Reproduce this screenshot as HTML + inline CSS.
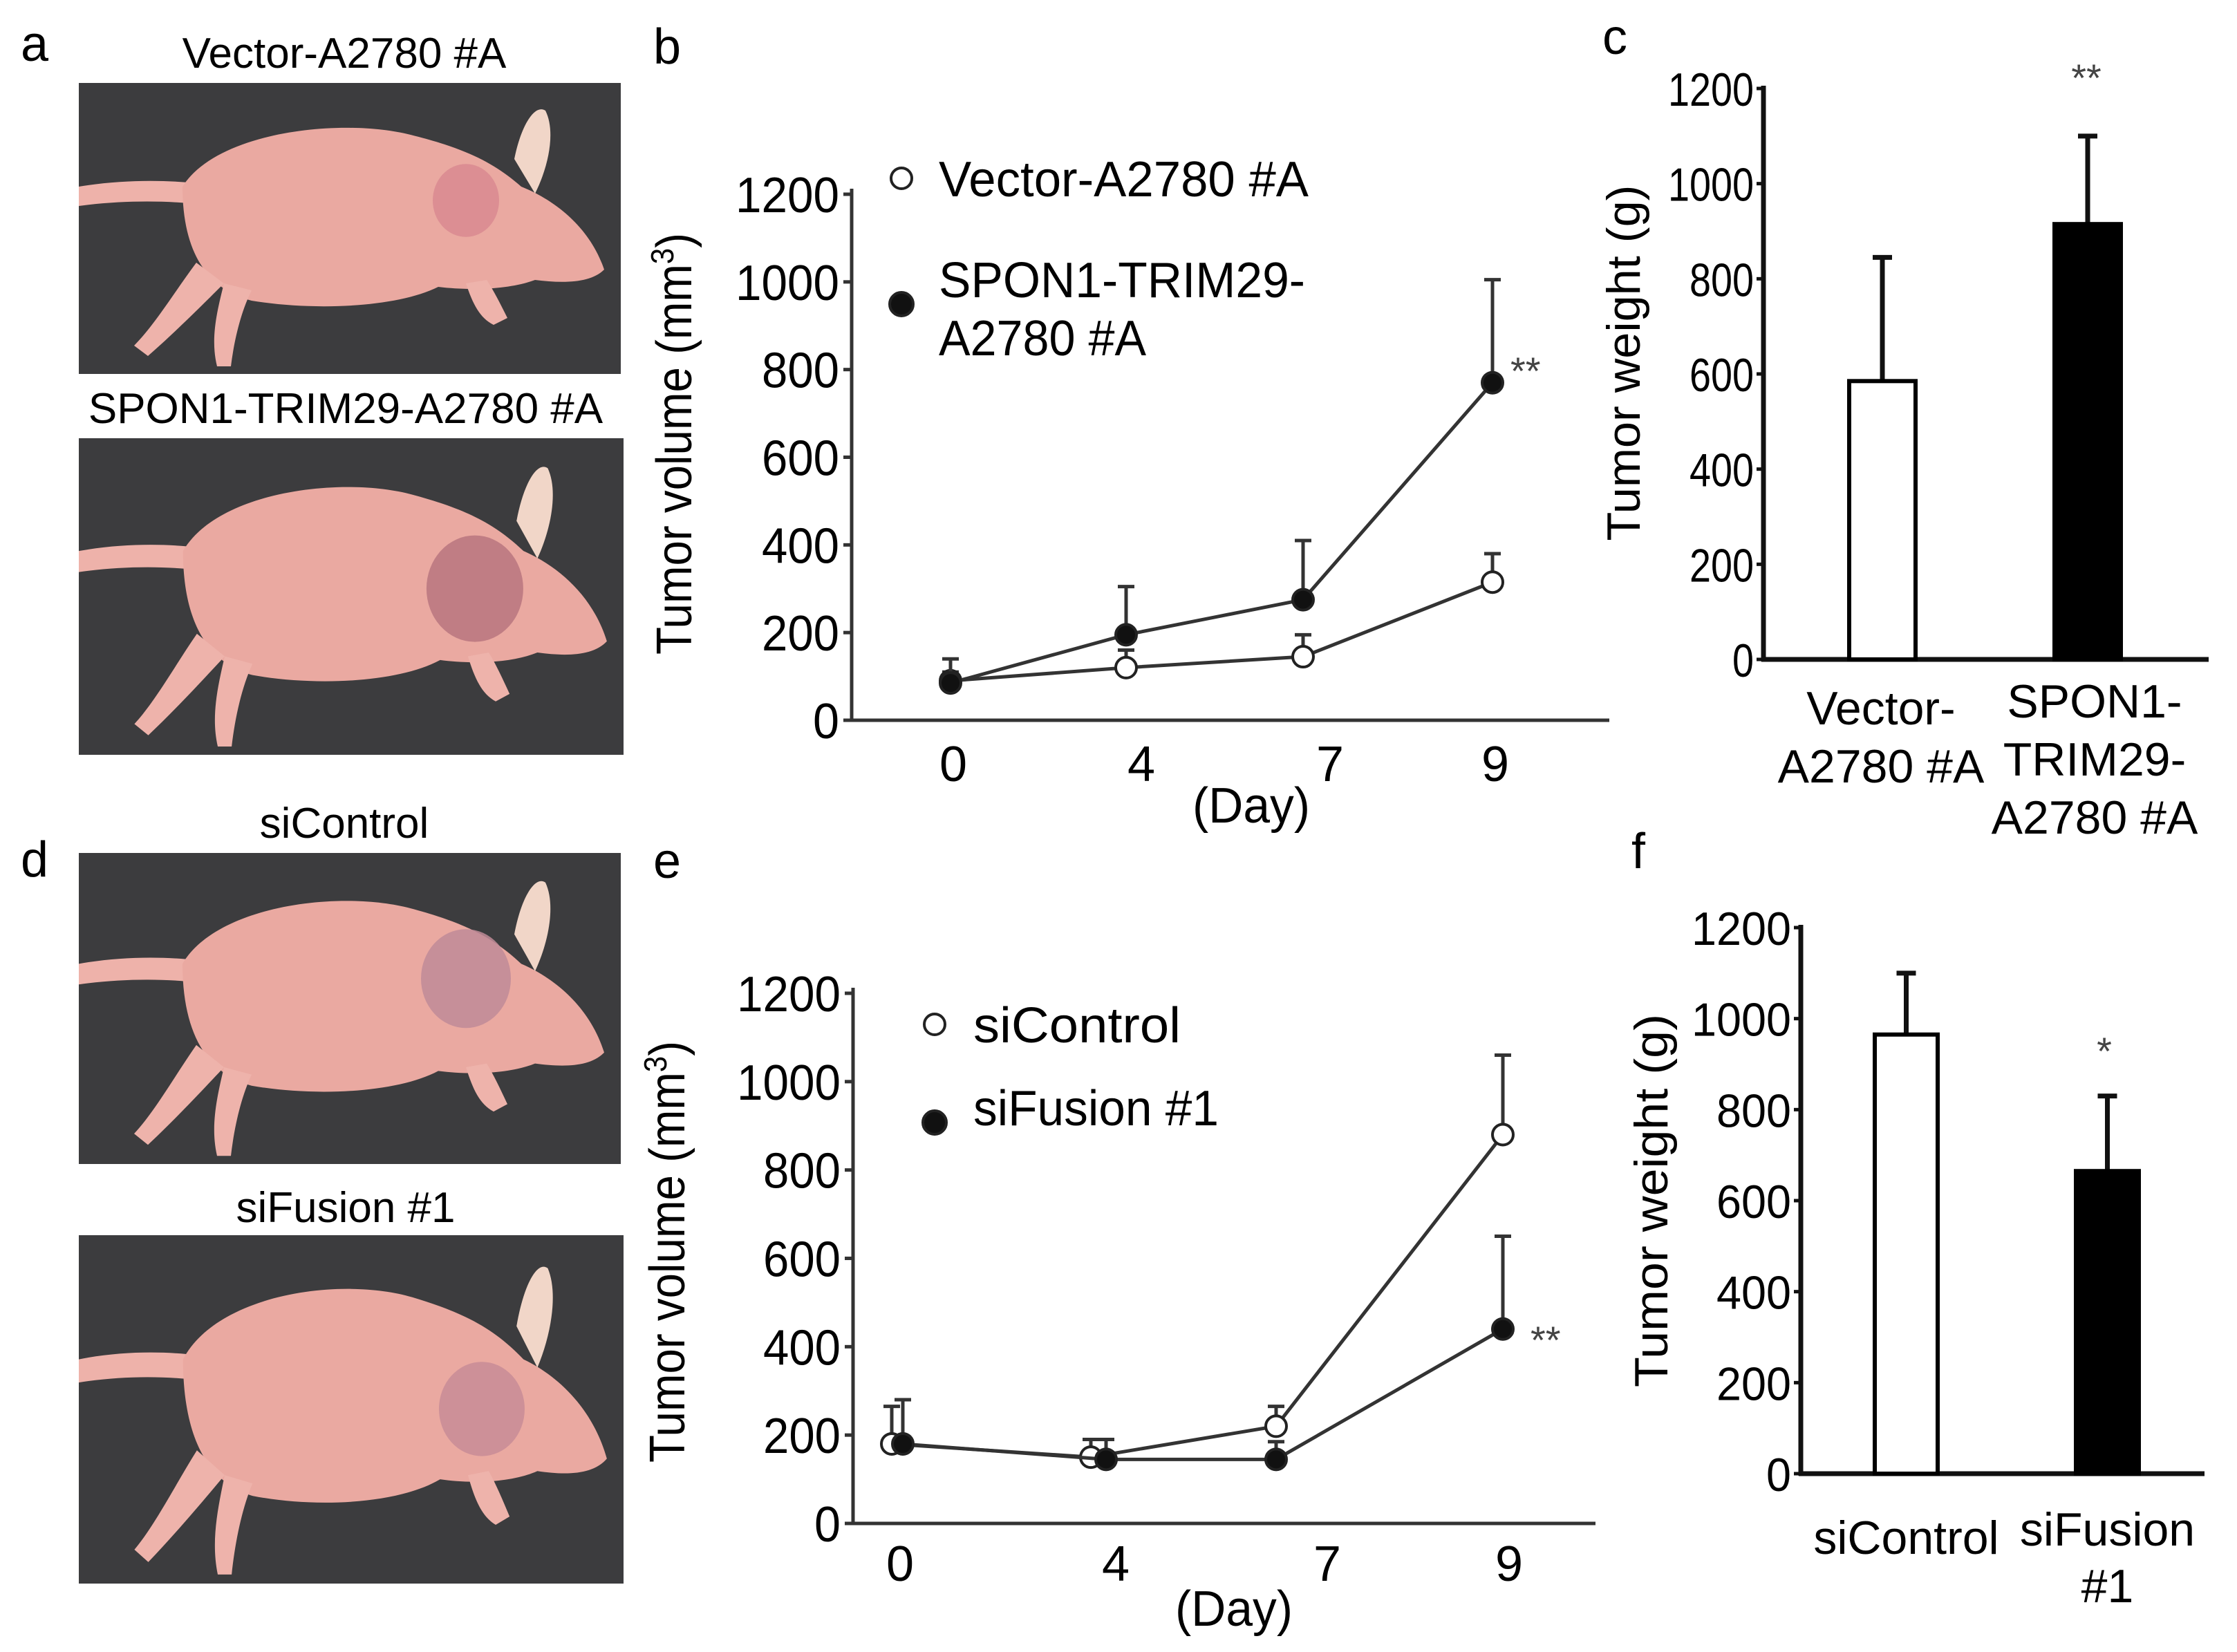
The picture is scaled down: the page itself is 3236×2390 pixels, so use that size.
<!DOCTYPE html>
<html><head><meta charset="utf-8"><style>
html,body{margin:0;padding:0;background:#fff;}
svg{display:block;font-family:"Liberation Sans",sans-serif;}
</style></head><body>
<svg id="fig" width="3236" height="2390" viewBox="0 0 3236 2390" xmlns="http://www.w3.org/2000/svg">
<defs>
<g id="mouse">
  <path d="M0,150 C60,140 120,140 170,145 L170,175 C120,170 60,170 0,178 Z" fill="#eeb2aa"/>
  <path d="M150,150 C200,70 380,50 480,75 C560,95 600,115 640,150 C690,170 740,210 760,270 C740,290 700,290 660,285 C620,300 560,300 520,295 C460,325 340,330 250,315 C190,300 150,250 150,150 Z" fill="#eaa9a1"/>
  <path d="M170,260 C140,300 110,350 80,380 L100,395 C140,360 180,320 210,290 Z" fill="#eeb3ab"/>
  <path d="M210,290 C200,330 190,370 200,410 L220,410 C225,370 235,330 250,300 Z" fill="#eeb3ab"/>
  <path d="M560,290 C570,320 580,340 600,350 L620,340 C610,320 600,300 590,285 Z" fill="#eeb3ab"/>
  <path d="M630,110 C640,60 660,30 675,40 C690,70 680,120 660,160 Z" fill="#f1d6c8"/>
</g>
</defs>
</svg>
<script>
const NS='http://www.w3.org/2000/svg';
const svg=document.getElementById('fig');
function el(tag,attrs,parent,text){const e=document.createElementNS(NS,tag);for(const k in attrs)e.setAttribute(k,attrs[k]);if(text!==undefined)e.textContent=text;(parent||svg).appendChild(e);return e;}

// ---------- data ----------
const days=['0','4','7','9'];
const bVector=[90,120,145,315];
const bVectorErr=[110,160,195,380];
const bFusion=[85,195,275,770];
const bFusionErr=[140,305,410,1005];
const eControl=[180,150,220,880];
const eControlErr=[265,190,265,1060];
const eFusion=[180,145,145,440];
const eFusionErr=[280,190,185,650];
const volTicks=[0,200,400,600,800,1000,1200];
const cCats=['Vector-A2780 #A','SPON1-TRIM29-A2780 #A'];
const cValues=[585,915];
const cErr=[845,1100];
const fCats=['siControl','siFusion #1'];
const fValues=[965,665];
const fErr=[1100,830];
const wTicks=[0,200,400,600,800,1000,1200];

// ---------- panel letters ----------
[['a',30,88],['b',945,92],['c',2318,78],['d',30,1268],['e',945,1270],['f',2360,1256]].forEach(p=>{
  const t=el('text',{x:p[1],y:p[2],'font-size':72},svg,p[0]);
  
  
});

// ---------- photos ----------
const photos=[
 {x:114,y:120,w:784,h:421,title:'Vector-A2780 #A',ty:98,tumor:[560,170,48,'#d98a90']},
 {x:114,y:634,w:788,h:458,title:'SPON1-TRIM29-A2780 #A',ty:612,tumor:[570,200,70,'#b9757f']},
 {x:114,y:1234,w:784,h:450,title:'siControl',ty:1212,tumor:[560,170,65,'#c08b98']},
 {x:114,y:1787,w:788,h:504,title:'siFusion #1',ty:1768,tumor:[580,210,62,'#c88c97']}
];
photos.forEach((p,i)=>{
  const t=el('text',{x:p.x+p.w/2-8,y:p.ty,'font-size':62,'text-anchor':'middle'},svg,p.title);
  
  
  const g=el('g',{transform:`translate(${p.x},${p.y})`});
  
  
  el('rect',{x:0,y:0,width:p.w,height:p.h,fill:'#3c3c3e'},g);
  el('use',{href:'#mouse',transform:`scale(${p.w/784},${p.h/421})`},g);
  el('ellipse',{cx:p.tumor[0]*p.w/784,cy:p.tumor[1]*p.h/421,rx:p.tumor[2],ry:p.tumor[2]*1.1,fill:p.tumor[3],opacity:0.85},g);
});

// ---------- line charts ----------
function lineChart(o){
  const g=el('g',{});
  
  
  const y=v=>o.y0-v*(o.y0-o.y1200)/1200;
  const x=i=>o.xStart+i*o.step;
  el('line',{x1:o.ax,y1:o.y1200-8,x2:o.ax,y2:o.y0,stroke:'#333','stroke-width':5},g);
  el('line',{x1:o.ax-10,y1:o.y0,x2:o.axEnd,y2:o.y0,stroke:'#333','stroke-width':5},g);
  volTicks.forEach(v=>{
    el('line',{x1:o.ax-12,y1:y(v),x2:o.ax,y2:y(v),stroke:'#333','stroke-width':5},g);
    const t=el('text',{x:o.ax-18,y:y(v)+26,'font-size':72,'text-anchor':'end',textLength:v>=1000?150:(v>0?112:38),lengthAdjust:'spacingAndGlyphs'},g,String(v));
    
    
  });
  days.forEach((d,i)=>{
    const t=el('text',{x:x(i)+o.labelDx[i],y:o.tickY,'font-size':72,'text-anchor':'middle'},g,d);
    
    
  });
  const xt=el('text',{x:o.dayX,y:o.dayY,'font-size':72,'text-anchor':'middle',textLength:170,lengthAdjust:'spacingAndGlyphs'},g,'(Day)');
  
  
  const yt=el('text',{x:0,y:0,'font-size':72,'text-anchor':'middle',transform:`translate(${o.ytX},${o.ytY}) rotate(-90)`,textLength:610,lengthAdjust:'spacingAndGlyphs'},g);
  
  
  yt.appendChild(document.createTextNode('Tumor volume (mm'));
  el('tspan',{'font-size':46,dy:-26},yt,'3');
  el('tspan',{dy:26},yt,')');
  o.series.forEach((s,si)=>{
    const sg=el('g',{},g);
    
    
    const pts=s.vals.map((v,i)=>`${x(i)+s.dx[i]},${y(v)}`).join(' ');
    s.err.forEach((e,i)=>{
      const eb=el('path',{d:`M${x(i)+s.dx[i]},${y(s.vals[i])} V${y(e)} M${x(i)+s.dx[i]-12},${y(e)} H${x(i)+s.dx[i]+12}`,stroke:'#333','stroke-width':5,fill:'none'},sg);
      
      
    });
    el('polyline',{points:pts,fill:'none',stroke:'#333','stroke-width':5},sg);
    s.vals.forEach((v,i)=>{
      const c=el('circle',{cx:x(i)+s.dx[i],cy:y(v),r:15,fill:s.filled?'#111':'#fff',stroke:'#222','stroke-width':4},sg);
      
      
    });
  });
  o.legend.forEach(L=>{
    const c=el('circle',{cx:L.cx,cy:L.cy,r:L.filled?17:15,fill:L.filled?'#111':'#fff',stroke:'#222','stroke-width':4},g);
    
    
    L.lines.forEach((ln,k)=>{
      const t=el('text',{x:L.tx,y:L.ty+k*84,'font-size':72,textLength:ln[1],lengthAdjust:'spacingAndGlyphs'},g,ln[0]);
      
      
    });
  });
  const st=el('text',{x:o.star[0],y:o.star[1],'font-size':56,fill:'#444'},g,o.star[2]);
  
  
}
lineChart({name:'chart-b',ax:1232,axEnd:2328,y0:1042,y1200:281,xStart:1375,step:262,labelDx:[4,14,25,2],tickY:1130,dayX:1810,dayY:1190,ytX:1000,ytY:642,
  series:[{key:'vector',vals:bVector,err:bVectorErr,filled:false,dx:[0,-8,-14,-2]},{key:'fusion',vals:bFusion,err:bFusionErr,filled:true,dx:[0,-8,-14,-2]}],
  legend:[{cx:1304,cy:258,filled:false,tx:1358,ty:284,lines:[['Vector-A2780 #A',535]]},{cx:1304,cy:440,filled:true,tx:1358,ty:430,lines:[['SPON1-TRIM29-',530],['A2780 #A',300]]}],
  star:[2185,556,'**']});
lineChart({name:'chart-e',ax:1234,axEnd:2308,y0:2204,y1200:1437,xStart:1298,step:292,labelDx:[4,24,38,9],tickY:2287,dayX:1785,dayY:2352,ytX:990,ytY:1811,
  series:[{key:'sicontrol',vals:eControl,err:eControlErr,filled:false,dx:[-8,-12,-36,0]},{key:'sifusion',vals:eFusion,err:eFusionErr,filled:true,dx:[8,10,-36,0]}],
  legend:[{cx:1352,cy:1482,filled:false,tx:1408,ty:1508,lines:[['siControl',300]]},{cx:1352,cy:1624,filled:true,tx:1408,ty:1628,lines:[['siFusion #1',355]]}],
  star:[2214,1958,'**']});

// ---------- bar charts ----------
function barChart(o){
  const g=el('g',{});
  
  
  const y=v=>o.y0-v*(o.y0-o.y1200)/1200;
  el('line',{x1:o.ax,y1:o.y1200-4,x2:o.ax,y2:o.y0+3,stroke:'#111','stroke-width':7},g);
  el('line',{x1:o.ax-3,y1:o.y0,x2:o.axEnd,y2:o.y0,stroke:'#111','stroke-width':7},g);
  wTicks.forEach(v=>{
    el('line',{x1:o.ax-10,y1:y(v),x2:o.ax,y2:y(v),stroke:'#111','stroke-width':5},g);
    const t=el('text',{x:o.ax-14,y:y(v)+25,'font-size':68,'text-anchor':'end',textLength:v>=1000?o.tw4:(v>0?o.tw4*0.75:o.tw4*0.25),lengthAdjust:'spacingAndGlyphs'},g,String(v));
    
    
  });
  const yt=el('text',{x:0,y:0,'font-size':68,'text-anchor':'middle',transform:`translate(${o.ytX},${o.ytY}) rotate(-90)`,textLength:o.ytLen,lengthAdjust:'spacingAndGlyphs'},g,o.ytitle);
  
  
  o.vals.forEach((v,i)=>{
    const bx=o.barX[0]+i*o.barStep, w=o.barW;
    const eb=el('path',{d:`M${bx+w/2},${y(v)} V${y(o.err[i])} M${bx+w/2-14},${y(o.err[i])} H${bx+w/2+14}`,stroke:'#111','stroke-width':7,fill:'none'},g);
    
    
    const r=el('rect',{x:bx,y:y(v),width:w,height:o.y0-y(v),fill:i===0?'#fff':'#000',stroke:'#000','stroke-width':6},g);
    
    
    o.labels[i].forEach((ln,k)=>{
      const t=el('text',{x:bx+w/2+o.labDx[i],y:o.labY[i]+k*o.labLH,'font-size':68,'text-anchor':'middle'},g,ln);
      
      
    });
  });
  const st=el('text',{x:o.star[0],y:o.star[1],'font-size':56,fill:'#444','text-anchor':'middle'},g,o.star[2]);
  
  
}
barChart({name:'chart-c',cats:cCats,vals:cValues,err:cErr,ax:2551,axEnd:3195,y0:954,y1200:128,barX:[2675],barStep:297,barW:96,tw4:124,
  ytitle:'Tumor weight (g)',ytX:2372,ytY:525,ytLen:515,labels:[['Vector-','A2780 #A'],['SPON1-','TRIM29-','A2780 #A']],labDx:[-2,10],labY:[1048,1038],labLH:84,
  star:[3018,132,'**']});
barChart({name:'chart-f',cats:fCats,vals:fValues,err:fErr,ax:2605,axEnd:3189,y0:2132,y1200:1342,barX:[2712],barStep:291,barW:91,tw4:144,
  ytitle:'Tumor weight (g)',ytX:2412,ytY:1737,ytLen:540,labels:[['siControl'],['siFusion','#1']],labDx:[0,0],labY:[2248,2236],labLH:82,
  star:[3044,1540,'*']});
</script>
</body></html>
